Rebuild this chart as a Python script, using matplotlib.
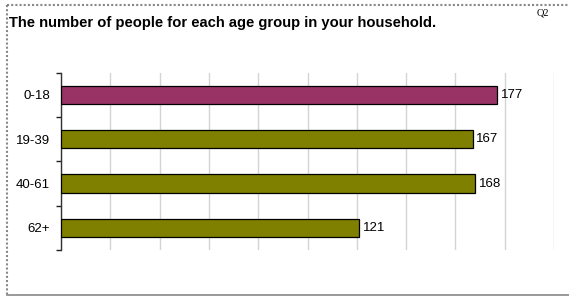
import matplotlib
matplotlib.use("Agg")
import matplotlib.pyplot as plt
from matplotlib.lines import Line2D
import numpy as np

plt.rcParams["font.family"] = ["Liberation Sans", "DejaVu Sans"]

groups = ["0-18", "19-39", "40-61", "62+"]
counts = [177, 167, 168, 121]
colors = ["#993366", "#808000", "#808000", "#808000"]

W, H = 569, 297
fig = plt.figure(figsize=(W / 100, H / 100), dpi=100)
ax = fig.add_axes([61 / W, 1 - 250 / H, (554 - 61) / W, (250 - 72.7) / H])

y = np.arange(len(groups))
ax.barh(y, counts, height=0.41, color=colors, edgecolor="black", linewidth=0.9, zorder=3)
for yi, c in zip(y, counts):
    ax.text(c + 1.5, yi, f"{c}", va="center", ha="left", fontsize=9.5)

ax.set_xlim(0, 200)
ax.set_ylim(len(groups) - 0.5, -0.5)
ax.set_xticks(np.arange(0, 201, 20))
ax.xaxis.grid(True, color="#d4d4d4", linewidth=1.0)
ax.tick_params(axis="x", length=0, labelbottom=False)

ax.set_yticks(y)
ax.set_yticklabels(groups, fontsize=9.5)
ax.set_yticks(np.arange(-0.5, len(groups), 1), minor=True)
ax.tick_params(axis="y", which="major", length=0, pad=8)
ax.tick_params(axis="y", which="minor", length=3.5, width=1.0, color="#222222")
for s in ["top", "right", "bottom"]:
    ax.spines[s].set_visible(False)
ax.spines["left"].set_color("#333333")
ax.spines["left"].set_linewidth(1.0)

fig.text(9 / W, 1 - 23.5 / H, "The number of people for each age group in your household.",
         fontsize=10.6, fontweight="bold", va="center", ha="left")
fig.text(537 / W, 1 - 13 / H, "Q2", fontsize=7.5, family="Liberation Serif", va="center", ha="left")

# outer frame
fc = "#888888"
fig.add_artist(Line2D([7 / W, 1], [1 - 5 / H, 1 - 5 / H], color=fc, lw=1.5, ls=(0, (1, 1))))
fig.add_artist(Line2D([7 / W, 7 / W], [1 - 5 / H, 1 - 295 / H], color=fc, lw=1.5, ls=(0, (1, 1))))
fig.add_artist(Line2D([7 / W, 1], [1 - 295 / H, 1 - 295 / H], color=fc, lw=1.2))

fig.savefig("out.png", dpi=100)
